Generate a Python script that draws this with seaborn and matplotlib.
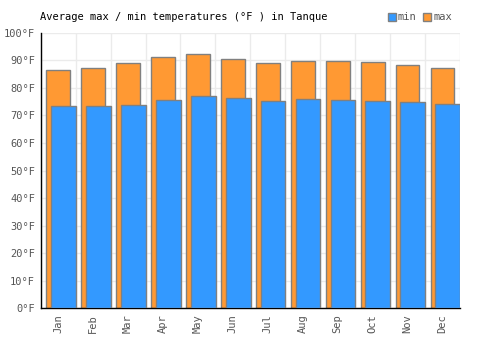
import matplotlib
matplotlib.use("Agg")
import matplotlib.pyplot as plt
import matplotlib.patches as mpatches
import numpy as np
import pandas as pd
import seaborn as sns

months = ["Jan", "Feb", "Mar", "Apr", "May", "Jun",
          "Jul", "Aug", "Sep", "Oct", "Nov", "Dec"]
temp_max = [86.4, 87.1, 88.9, 91.1, 92.2, 90.3, 88.9, 89.6, 89.6, 89.3, 88.2, 87.1]
temp_min = [73.3, 73.3, 73.7, 75.6, 76.9, 76.2, 75.2, 75.8, 75.6, 75.2, 74.7, 74.0]
y_ticks = [0, 10, 20, 30, 40, 50, 60, 70, 80, 90, 100]

MAX_COLOR = "#ff9933"
MIN_COLOR = "#3399ff"
EDGE = "#808080"

sns.set_style("white")
plt.rcParams["font.family"] = ["DejaVu Sans Mono"]
plt.rcParams["font.size"] = 7.5

df = pd.DataFrame({"Month": months, "max": temp_max, "min": temp_min})

fig = plt.figure(figsize=(5, 3.5), dpi=100)
ax = fig.add_axes([0.0814, 0.119, 0.8386, 0.7876])

# max bars first, then min bars overlapping and shifted right
sns.barplot(data=df, x="Month", y="max", color=MAX_COLOR, width=0.68,
            edgecolor=EDGE, linewidth=1, saturation=1, ax=ax, zorder=2)
n = len(months)
sns.barplot(data=df, x="Month", y="min", color=MIN_COLOR, width=0.71,
            edgecolor=EDGE, linewidth=1, saturation=1, ax=ax, zorder=3)
for p in ax.patches[n:]:
    p.set_x(p.get_x() + 0.15)

ax.set_xlim(-0.5, n - 0.5)
ax.set_ylim(0, 100)
ax.set_yticks(y_ticks)
ax.set_yticklabels([f"{t}°F" for t in y_ticks], color="#555555")
ax.set_xticks(range(n))
ax.set_xticklabels(months, rotation=90, color="#555555")
ax.set_xlabel("")
ax.set_ylabel("")
ax.tick_params(axis="both", length=0, pad=4)

# grid: horizontal at ticks, vertical at group boundaries
for t in y_ticks:
    ax.axhline(t, color="#ebebeb", lw=1, zorder=0)
for b in np.arange(-0.5, n, 1.0):
    ax.axvline(b, color="#ebebeb", lw=1, zorder=0)

for s in ["top", "right"]:
    ax.spines[s].set_visible(False)
ax.spines["left"].set_color("black")
ax.spines["bottom"].set_color("black")
ax.spines["left"].set_linewidth(1)
ax.spines["bottom"].set_linewidth(1)

fig.text(0.08, 0.951, "Average max / min temperatures (°F ) in Tanque",
         ha="left", va="center", fontsize=7.5, color="black")

handles = [mpatches.Patch(facecolor=MIN_COLOR, edgecolor=EDGE, label="min"),
           mpatches.Patch(facecolor=MAX_COLOR, edgecolor=EDGE, label="max")]
leg = fig.legend(handles=handles, loc="center left", bbox_to_anchor=(0.775, 0.951),
                 ncol=2, frameon=False, handlelength=0.8, handleheight=0.8,
                 handletextpad=0.2, columnspacing=0.6, fontsize=7.5,
                 borderaxespad=0, borderpad=0)
for t in leg.get_texts():
    t.set_color("#555555")

fig.savefig("out.png", dpi=100)
